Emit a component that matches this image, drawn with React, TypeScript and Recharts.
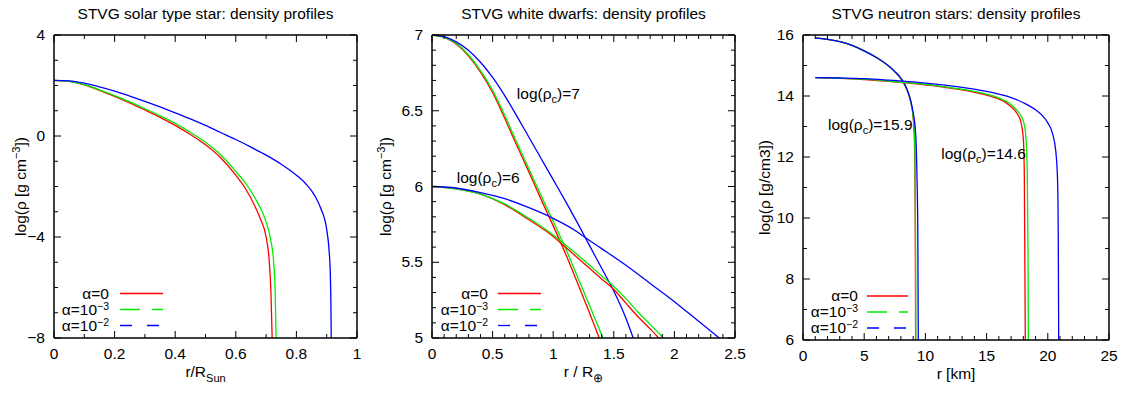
import React from 'react';
import { LineChart, Line, XAxis, YAxis, Label, ReferenceDot } from 'recharts';

type Pt = [number, number];

const FONT = "'Liberation Sans', Arial, Helvetica, sans-serif";
const FS = 15.5;
const RED = '#ff0000';
const GREEN = '#00ee00';
const BLUE = '#0000ff';

// ---------- Panel 1: solar type star ----------
const solarXMajor = [0, 0.2, 0.4, 0.6, 0.8, 1];
const solarXMinor = [0.1, 0.3, 0.5, 0.7, 0.9];
const solarYMajor = [-8, -4, 0, 4];
const solarYMinor = [-7, -6, -5, -3, -2, -1, 1, 2, 3];

const solarA0: Pt[] = [[0, 2.2], [0.05, 2.16], [0.1, 2.02], [0.15, 1.81], [0.2, 1.57], [0.25, 1.31], [0.3, 1.03], [0.35, 0.74], [0.4, 0.42], [0.45, 0.06], [0.5, -0.35], [0.55, -0.86], [0.6, -1.55], [0.63, -2.05], [0.66, -2.7], [0.68, -3.25], [0.7, -4.0], [0.71, -4.9], [0.716, -6.2], [0.72, -8]];
const solarA3: Pt[] = [[0, 2.2], [0.05, 2.16], [0.1, 2.03], [0.15, 1.83], [0.2, 1.6], [0.25, 1.35], [0.3, 1.08], [0.35, 0.8], [0.4, 0.5], [0.45, 0.15], [0.5, -0.25], [0.55, -0.74], [0.6, -1.4], [0.64, -2.0], [0.67, -2.6], [0.7, -3.4], [0.715, -4.1], [0.725, -5.0], [0.73, -6.2], [0.733, -8]];
const solarA2: Pt[] = [[0, 2.2], [0.05, 2.18], [0.1, 2.09], [0.15, 1.95], [0.2, 1.78], [0.25, 1.58], [0.3, 1.37], [0.35, 1.15], [0.4, 0.92], [0.45, 0.68], [0.5, 0.42], [0.55, 0.14], [0.6, -0.14], [0.65, -0.44], [0.7, -0.76], [0.75, -1.12], [0.8, -1.55], [0.83, -1.88], [0.86, -2.35], [0.88, -2.85], [0.9, -3.7], [0.907, -4.4], [0.912, -5.5], [0.914, -6.8], [0.915, -8]];

// ---------- Panel 2: white dwarfs ----------
const wdXMajor = [0, 0.5, 1, 1.5, 2, 2.5];
const wdXMinor = [0.1, 0.2, 0.3, 0.4, 0.6, 0.7, 0.8, 0.9, 1.1, 1.2, 1.3, 1.4, 1.6, 1.7, 1.8, 1.9, 2.1, 2.2, 2.3, 2.4];
const wdYMajor = [5, 5.5, 6, 6.5, 7];
const wdYMinor = [5.1, 5.2, 5.3, 5.4, 5.6, 5.7, 5.8, 5.9, 6.1, 6.2, 6.3, 6.4, 6.6, 6.7, 6.8, 6.9];

const wd7A0: Pt[] = [[0, 7], [0.1, 6.985], [0.2, 6.94], [0.3, 6.862], [0.4, 6.755], [0.5, 6.62], [0.6, 6.45], [0.7, 6.27], [0.8, 6.095], [0.9, 5.915], [1.0, 5.74], [1.1, 5.56], [1.2, 5.365], [1.3, 5.165], [1.38, 5.0]];
const wd7A3: Pt[] = [[0, 7], [0.1, 6.986], [0.2, 6.945], [0.3, 6.87], [0.4, 6.765], [0.5, 6.635], [0.6, 6.47], [0.7, 6.29], [0.8, 6.115], [0.9, 5.94], [1.0, 5.77], [1.1, 5.595], [1.2, 5.405], [1.3, 5.215], [1.41, 5.0]];
const wd7A2: Pt[] = [[0, 7], [0.1, 6.99], [0.2, 6.955], [0.3, 6.9], [0.4, 6.82], [0.5, 6.72], [0.6, 6.6], [0.7, 6.465], [0.8, 6.325], [0.9, 6.185], [1.0, 6.045], [1.1, 5.905], [1.2, 5.76], [1.3, 5.61], [1.4, 5.46], [1.5, 5.31], [1.6, 5.13], [1.66, 5.0]];
const wd6A0: Pt[] = [[0, 6], [0.2, 5.985], [0.4, 5.95], [0.6, 5.88], [0.8, 5.78], [1.0, 5.67], [1.1, 5.6], [1.2, 5.53], [1.3, 5.46], [1.4, 5.39], [1.5, 5.32], [1.6, 5.23], [1.7, 5.14], [1.8, 5.06], [1.87, 5.0]];
const wd6A3: Pt[] = [[0, 6], [0.2, 5.985], [0.4, 5.95], [0.6, 5.885], [0.8, 5.79], [1.0, 5.68], [1.1, 5.615], [1.2, 5.55], [1.3, 5.48], [1.4, 5.41], [1.5, 5.34], [1.6, 5.26], [1.7, 5.17], [1.8, 5.09], [1.91, 5.0]];
const wd6A2: Pt[] = [[0, 6], [0.2, 5.99], [0.4, 5.96], [0.6, 5.92], [0.8, 5.86], [1.0, 5.79], [1.2, 5.7], [1.27, 5.66], [1.4, 5.59], [1.6, 5.48], [1.8, 5.36], [2.0, 5.24], [2.2, 5.11], [2.37, 5.0]];

// ---------- Panel 3: neutron stars ----------
const nsXMajor = [0, 5, 10, 15, 20, 25];
const nsXMinor = [1, 2, 3, 4, 6, 7, 8, 9, 11, 12, 13, 14, 16, 17, 18, 19, 21, 22, 23, 24];
const nsYMajor = [6, 8, 10, 12, 14, 16];
const nsYMinor = [7, 9, 11, 13, 15];

const ns159A0: Pt[] = [[1, 15.9], [2, 15.86], [3, 15.78], [4, 15.66], [5, 15.48], [6, 15.26], [7, 14.98], [7.5, 14.8], [8, 14.57], [8.5, 14.2], [8.8, 13.8], [9.0, 13.3], [9.1, 12.6], [9.15, 11.2], [9.18, 9], [9.2, 6]];
const ns159A3: Pt[] = [[1, 15.9], [2, 15.86], [3, 15.78], [4, 15.66], [5, 15.48], [6, 15.26], [7, 14.98], [7.5, 14.8], [8, 14.57], [8.5, 14.2], [8.8, 13.82], [9.0, 13.32], [9.12, 12.6], [9.17, 11.2], [9.2, 9], [9.22, 6]];
const ns159A2: Pt[] = [[1, 15.9], [2, 15.86], [3, 15.78], [4, 15.66], [5, 15.48], [6, 15.26], [7, 14.98], [7.5, 14.8], [8, 14.58], [8.5, 14.22], [8.8, 13.85], [9.0, 13.45], [9.2, 12.8], [9.3, 11.6], [9.38, 9.5], [9.42, 6]];
const ns146A0: Pt[] = [[1, 14.6], [3, 14.58], [5, 14.54], [7, 14.48], [9, 14.41], [11, 14.32], [13, 14.2], [14, 14.12], [15, 14.03], [16, 13.9], [16.5, 13.8], [17, 13.65], [17.5, 13.42], [17.8, 13.15], [18.0, 12.6], [18.08, 11.5], [18.12, 9], [18.16, 6]];
const ns146A3: Pt[] = [[1, 14.6], [3, 14.58], [5, 14.55], [7, 14.49], [9, 14.42], [11, 14.33], [13, 14.22], [15, 14.06], [16, 13.94], [17, 13.72], [17.5, 13.52], [18, 13.18], [18.2, 12.7], [18.32, 11.5], [18.38, 9], [18.41, 6]];
const ns146A2: Pt[] = [[1, 14.6], [3, 14.59], [5, 14.57], [7, 14.52], [9, 14.46], [11, 14.38], [13, 14.28], [15, 14.15], [16, 14.06], [17, 13.95], [18, 13.78], [19, 13.55], [19.5, 13.38], [20, 13.12], [20.4, 12.75], [20.65, 12.2], [20.8, 11.2], [20.86, 9], [20.89, 6]];

// legend labels
const legendMain = ['α=0', 'α=10', 'α=10'];
const legendSup = ['', '−3', '−2'];
const legendColors = [RED, GREEN, BLUE];
const legendDash = ['', '20 12', '12 15'];

const toObj = (a: Pt[]) => a.map(([x, y]) => ({ x, y }));
const fmt = (v: number) => (v < 0 ? '−' + String(Math.abs(v)) : String(v));

type Side = 'bottom' | 'top' | 'left' | 'right';
const mkTick = (side: Side, majors: number[]) => (p: any) => {
  const x = Number(p.x);
  const y = Number(p.y);
  const v = Number(p.payload?.value);
  const major = majors.some((m) => Math.abs(m - v) < 1e-9);
  const L = major ? 7 : 4;
  let x2 = x;
  let y2 = y;
  if (side === 'bottom') y2 = y - L;
  if (side === 'top') y2 = y + L;
  if (side === 'left') x2 = x + L;
  if (side === 'right') x2 = x - L;
  return (
    <g>
      <line x1={x} y1={y} x2={x2} y2={y2} stroke="#000" strokeWidth={1} />
      {major && side === 'bottom' && (
        <text x={x} y={y + 21} textAnchor="middle" fontSize={FS} fontFamily={FONT} fill="#000">
          {fmt(v)}
        </text>
      )}
      {major && side === 'left' && (
        <text x={x - 9} y={y + 5} textAnchor="end" fontSize={FS} fontFamily={FONT} fill="#000">
          {fmt(v)}
        </text>
      )}
    </g>
  );
};

interface Series { data: Pt[]; color: string }
interface Note { x: number; y: number; tail: string }
interface Cfg {
  left: number; width: number;
  plotLeft: number; plotRight: number; plotTop: number; plotBottom: number;
  xDomain: [number, number]; yDomain: [number, number];
  xMajor: number[]; xMinor: number[]; yMajor: number[]; yMinor: number[];
  series: Series[];
  title: string;
  xMain: string; xSub: string; xSubSize: number;
  yMain: string; ySup: string; yTail: string; yLabelX: number;
  notes: Note[];
  legTextEnd: number; legX1: number; legX2: number; legRows: number[];
}

const sortNum = (a: number[]) => [...a].sort((p, q) => p - q);

function Panel({ cfg }: { cfg: Cfg }) {
  const rl = cfg.plotLeft - cfg.left;
  const rr = cfg.plotRight - cfg.left;
  const cx = (rl + rr) / 2;
  const cy = (cfg.plotTop + cfg.plotBottom) / 2;
  const xTicks = sortNum([...cfg.xMajor, ...cfg.xMinor]);
  const yTicks = sortNum([...cfg.yMajor, ...cfg.yMinor]);
  const axisLine = { stroke: '#000', strokeWidth: 1.5 };
  const yx = cfg.yLabelX - cfg.left;

  return (
    <div style={{ position: 'absolute', left: cfg.left, top: 0, width: cfg.width, height: 395 }}>
      <LineChart width={cfg.width} height={395} margin={{ top: 0, right: 0, bottom: 0, left: 0 }} style={{ fontFamily: FONT }}>
        <XAxis
          xAxisId="b" dataKey="x" type="number" orientation="bottom" domain={cfg.xDomain} allowDataOverflow
          ticks={xTicks} interval={0} height={395 - cfg.plotBottom} tickSize={0} tickMargin={0} tickLine={false}
          axisLine={axisLine} tick={mkTick('bottom', cfg.xMajor)}
          label={
            <Label
              content={() => (
                <text x={cx} y={cfg.plotBottom + 39} textAnchor="middle" fontSize={FS} fontFamily={FONT} fill="#000">
                  {cfg.xMain}
                  {cfg.xSub && <tspan dy={5} fontSize={cfg.xSubSize}>{cfg.xSub}</tspan>}
                </text>
              )}
            />
          }
        />
        <XAxis
          xAxisId="t" dataKey="x" type="number" orientation="top" domain={cfg.xDomain} allowDataOverflow
          ticks={xTicks} interval={0} height={cfg.plotTop} tickSize={0} tickMargin={0} tickLine={false}
          axisLine={axisLine} tick={mkTick('top', cfg.xMajor)}
          label={
            <Label
              content={() => (
                <text x={cx} y={19} textAnchor="middle" fontSize={FS} fontFamily={FONT} fill="#000">
                  {cfg.title}
                </text>
              )}
            />
          }
        />
        <YAxis
          yAxisId="l" dataKey="y" type="number" orientation="left" domain={cfg.yDomain} allowDataOverflow
          ticks={yTicks} interval={0} width={rl} tickSize={0} tickMargin={0} tickLine={false}
          axisLine={axisLine} tick={mkTick('left', cfg.yMajor)}
          label={
            <Label
              content={() => (
                <text x={yx} y={cy} transform={`rotate(-90 ${yx} ${cy})`} textAnchor="middle" dy={5} fontSize={FS} fontFamily={FONT} fill="#000">
                  {cfg.yMain}
                  {cfg.ySup && <tspan dy={-6} fontSize={11}>{cfg.ySup}</tspan>}
                  {cfg.ySup ? <tspan dy={6}>{cfg.yTail}</tspan> : cfg.yTail}
                </text>
              )}
            />
          }
        />
        <YAxis
          yAxisId="r" dataKey="y" type="number" orientation="right" domain={cfg.yDomain} allowDataOverflow
          ticks={yTicks} interval={0} width={cfg.width - rr} tickSize={0} tickMargin={0} tickLine={false}
          axisLine={axisLine} tick={mkTick('right', cfg.yMajor)}
        />
        {cfg.series.map((s, i) => (
          <Line
            key={i} data={toObj(s.data)} dataKey="y" xAxisId="b" yAxisId="l" type="monotone"
            stroke={s.color} strokeWidth={1.3} dot={false} activeDot={false} isAnimationActive={false}
          />
        ))}
        {cfg.notes.map((n, i) => (
          <ReferenceDot
            key={'n' + i} x={n.x} y={n.y} xAxisId="b" yAxisId="l" r={1} fill="none" stroke="none"
            shape={(p: any) => (
              <text x={p.cx} y={p.cy} fontSize={FS} fontFamily={FONT} fill="#000">
                log(ρ<tspan dy={4} fontSize={11}>c</tspan>
                <tspan dy={-4}>{n.tail}</tspan>
              </text>
            )}
          />
        ))}
      </LineChart>
      <svg
        width={cfg.width} height={395}
        style={{ position: 'absolute', left: 0, top: 0, pointerEvents: 'none' }}
      >
        {legendMain.map((t, i) => {
          const ly = cfg.legRows[i];
          return (
            <g key={i}>
              <text x={cfg.legTextEnd - cfg.left} y={ly + 5} textAnchor="end" fontSize={FS} fontFamily={FONT} fill="#000">
                {t}
                {legendSup[i] && <tspan dy={-5} fontSize={10.5}>{legendSup[i]}</tspan>}
              </text>
              <line
                x1={cfg.legX1 - cfg.left} x2={cfg.legX2 - cfg.left} y1={ly} y2={ly}
                stroke={legendColors[i]} strokeWidth={1.3} strokeDasharray={legendDash[i] || undefined}
              />
            </g>
          );
        })}
      </svg>
    </div>
  );
}

const panels: Cfg[] = [
  {
    left: 0, width: 370, plotLeft: 54, plotRight: 357, plotTop: 35, plotBottom: 338,
    xDomain: [0, 1], yDomain: [-8, 4],
    xMajor: solarXMajor, xMinor: solarXMinor, yMajor: solarYMajor, yMinor: solarYMinor,
    series: [{ data: solarA0, color: RED }, { data: solarA3, color: GREEN }, { data: solarA2, color: BLUE }],
    title: 'STVG solar type star: density profiles',
    xMain: 'r/R', xSub: 'Sun', xSubSize: 11,
    yMain: 'log(ρ [g cm', ySup: '−3', yTail: '])', yLabelX: 21,
    notes: [],
    legTextEnd: 109, legX1: 120, legX2: 163, legRows: [293.5, 309.5, 325.5],
  },
  {
    left: 365, width: 385, plotLeft: 432, plotRight: 735, plotTop: 35, plotBottom: 338,
    xDomain: [0, 2.5], yDomain: [5, 7],
    xMajor: wdXMajor, xMinor: wdXMinor, yMajor: wdYMajor, yMinor: wdYMinor,
    series: [
      { data: wd7A0, color: RED }, { data: wd7A3, color: GREEN }, { data: wd7A2, color: BLUE },
      { data: wd6A0, color: RED }, { data: wd6A3, color: GREEN }, { data: wd6A2, color: BLUE },
    ],
    title: 'STVG white dwarfs: density profiles',
    xMain: 'r / R', xSub: '⊕', xSubSize: 12,
    yMain: 'log(ρ [g cm', ySup: '−3', yTail: '])', yLabelX: 386,
    notes: [{ x: 0.7, y: 6.576, tail: ')=7' }, { x: 0.204, y: 6.023, tail: ')=6' }],
    legTextEnd: 488, legX1: 498, legX2: 541, legRows: [293.5, 309.5, 325.5],
  },
  {
    left: 750, width: 381, plotLeft: 803, plotRight: 1109, plotTop: 35, plotBottom: 340,
    xDomain: [0, 25], yDomain: [6, 16],
    xMajor: nsXMajor, xMinor: nsXMinor, yMajor: nsYMajor, yMinor: nsYMinor,
    series: [
      { data: ns159A0, color: RED }, { data: ns159A3, color: GREEN }, { data: ns159A2, color: BLUE },
      { data: ns146A0, color: RED }, { data: ns146A3, color: GREEN }, { data: ns146A2, color: BLUE },
    ],
    title: 'STVG neutron stars: density profiles',
    xMain: 'r [km]', xSub: '', xSubSize: 11,
    yMain: 'log(ρ [g/cm3])', ySup: '', yTail: '', yLabelX: 765,
    notes: [{ x: 2.04, y: 12.89, tail: ')=15.9' }, { x: 11.3, y: 11.92, tail: ')=14.6' }],
    legTextEnd: 858, legX1: 867, legX2: 908, legRows: [296, 312, 328],
  },
];

export default function App() {
  return (
    <div style={{ position: 'absolute', left: 0, top: 0, width: 1131, height: 395, background: '#fff', fontFamily: FONT, overflow: 'hidden' }}>
      {panels.map((c, i) => (
        <Panel key={i} cfg={c} />
      ))}
    </div>
  );
}
